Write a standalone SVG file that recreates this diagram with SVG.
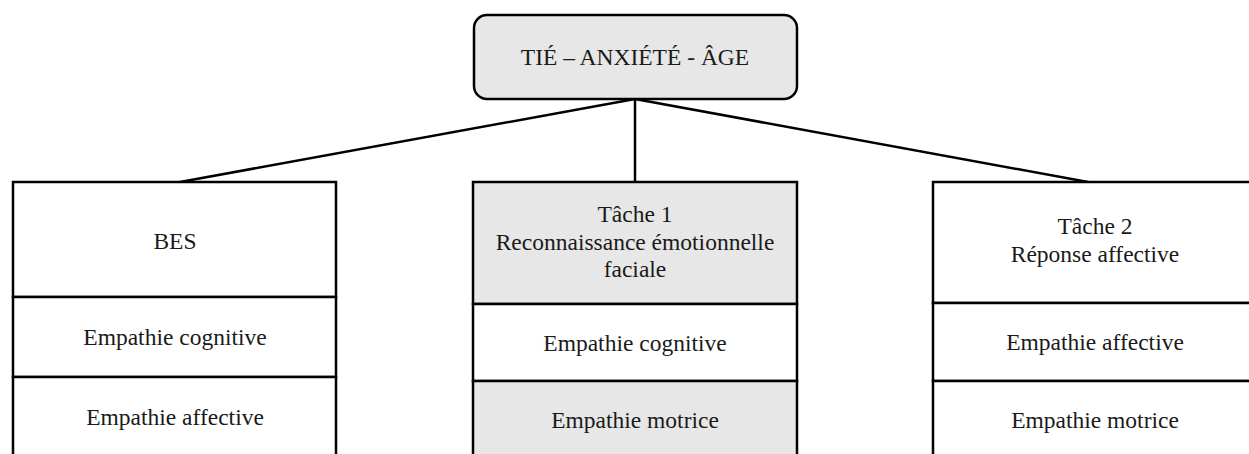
<svg xmlns="http://www.w3.org/2000/svg" width="1249" height="454" viewBox="0 0 1249 454">
<style>
.b{stroke:#000;stroke-width:2.5;}
.g{fill:#e7e7e7;}
.w{fill:#fff;}
.t{font-size:23.5px;fill:#1a1a1a;text-anchor:middle;}
.c{stroke:#000;stroke-width:2.5;fill:none;}
</style>
<rect width="1249" height="454" fill="#fff"/>
<g id="connectors">
<line class="c" x1="635" y1="99" x2="180" y2="182"/>
<line class="c" x1="635" y1="99" x2="635" y2="182"/>
<line class="c" x1="635" y1="99" x2="1088" y2="182"/>
</g>
<g font-family="Liberation Serif, Times New Roman, serif">
<g id="root">
<rect class="b g" x="474" y="15" width="323" height="84" rx="13"/>
<text class="t" x="635" y="65">TIÉ – ANXIÉTÉ - ÂGE</text>
</g>
<g id="bes">
<rect class="b w" x="13" y="182" width="323" height="115"/>
<rect class="b w" x="13" y="297" width="323" height="80"/>
<rect class="b w" x="13" y="377" width="323" height="90"/>
<text class="t" x="175" y="249">BES</text>
<text class="t" x="175" y="345">Empathie cognitive</text>
<text class="t" x="175" y="425">Empathie affective</text>
</g>
<g id="tache1">
<rect class="b g" x="473" y="182" width="324" height="122"/>
<rect class="b w" x="473" y="304" width="324" height="77"/>
<rect class="b g" x="473" y="381" width="324" height="86"/>
<text class="t" x="635" y="222">Tâche 1</text>
<text class="t" x="635" y="250">Reconnaissance émotionnelle</text>
<text class="t" x="635" y="277">faciale</text>
<text class="t" x="635" y="351">Empathie cognitive</text>
<text class="t" x="635" y="428">Empathie motrice</text>
</g>
<g id="tache2">
<rect class="b w" x="933" y="182" width="330" height="121"/>
<rect class="b w" x="933" y="303" width="330" height="78"/>
<rect class="b w" x="933" y="381" width="330" height="86"/>
<text class="t" x="1095" y="234">Tâche 2</text>
<text class="t" x="1095" y="262">Réponse affective</text>
<text class="t" x="1095" y="350">Empathie affective</text>
<text class="t" x="1095" y="428">Empathie motrice</text>
</g>
</g>
</svg>
